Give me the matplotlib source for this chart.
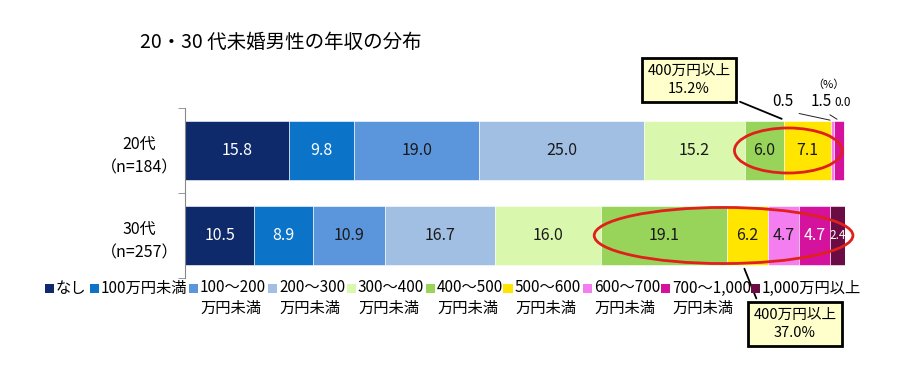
import matplotlib
matplotlib.use("Agg")
import matplotlib.pyplot as plt
from matplotlib.patches import Ellipse, Rectangle
import numpy as np

plt.rcParams['font.family'] = ['Noto Sans CJK JP', 'DejaVu Sans']

groups = ['20代\n（n=184）', '30代\n（n=257）']
categories = ['なし', '100万円未満', '100～200\n万円未満', '200～300\n万円未満', '300～400\n万円未満',
              '400～500\n万円未満', '500～600\n万円未満', '600～700\n万円未満', '700～1,000\n万円未満',
              '1,000万円以上']
values_20 = [15.8, 9.8, 19.0, 25.0, 15.2, 6.0, 7.1, 0.5, 1.5, 0.0]
values_30 = [10.5, 8.9, 10.9, 16.7, 16.0, 19.1, 6.2, 4.7, 4.7, 2.4]
colors = ['#0e2a6b', '#0b74c8', '#5b95dc', '#a1bfe2', '#d9f7ad',
          '#98d45a', '#ffe500', '#f47ef0', '#d4129e', '#6c0c45']
label_colors = ['white', 'white', '#1a1a1a', '#1a1a1a', '#1a1a1a',
                '#1a1a1a', '#1a1a1a', '#1a1a1a', 'white', 'white']

fig = plt.figure(figsize=(9, 3.79), dpi=100)
ax = fig.add_axes([185/900, 1 - 278/379, 660/900, 170/379])

data = [values_20, values_30]
bar_h = 0.7
for row, vals in enumerate(data):
    left = 0
    for i, v in enumerate(vals):
        ax.barh(row, v, left=left, height=bar_h, color=colors[i], edgecolor='#ffffff', linewidth=0.4)
        if v >= 2:
            fs = 8.5 if v < 3 else 11.5
            ax.text(left + v/2, row, f'{v:.1f}', ha='center', va='center',
                    color=label_colors[i], fontsize=fs)
        left += v

ax.set_xlim(0, 100)
ax.set_ylim(1.5, -0.5)
ax.set_yticks([0, 1])
ax.set_yticklabels(groups, fontsize=11.5, ha='center', linespacing=1.5)
ax.tick_params(axis='y', which='major', length=0, pad=33)
ax.set_yticks([-0.5, 0.5, 1.5], minor=True)
ax.tick_params(axis='y', which='minor', length=5, color='#888888')
ax.set_xticks([])
for s in ['top', 'right', 'bottom']:
    ax.spines[s].set_visible(False)
ax.spines['left'].set_color('#888888')

fig.text(140/900, 1 - 42/379, '20・30 代未婚男性の年収の分布', fontsize=14, va='center', ha='left')

# small values for the 20s bar
cum20 = np.cumsum(values_20)
small_txt = [(7, 783, '0.5', 11), (8, 821, '1.5', 11), (9, 843, '0.0', 8.5)]
for idx, px, txt, fs in small_txt:
    xc = cum20[idx] - values_20[idx] / 2
    if idx < 9:
        ax.annotate(txt, xy=(xc, -0.35), xytext=(px, 379 - 102), textcoords='figure pixels',
                    ha='center', va='center', fontsize=fs,
                    arrowprops=dict(arrowstyle='-', color='#222222', lw=0.7, relpos=(0.6, 0.0)))
    else:
        fig.text(px/900, 1 - 102/379, txt, ha='center', va='center', fontsize=fs)
fig.text(828/900, 1 - 85/379, '（%）', ha='center', va='center', fontsize=8)

# red ellipses
ax.add_patch(Ellipse((91.4, 0), 16.3, 0.53, fill=False, edgecolor='#e0201c', lw=2, clip_on=False))
ax.add_patch(Ellipse((81.6, 1), 39.2, 0.66, fill=False, edgecolor='#e0201c', lw=2, clip_on=False))

# callouts
box = dict(boxstyle='square,pad=0.4', fc='#ffffcc', ec='black', lw=2)
ax.annotate('400万円以上\n15.2%', xy=(cum20[4] + values_20[5], -0.36), xytext=(689, 379 - 80),
            textcoords='figure pixels', ha='center', va='center', fontsize=10.5, bbox=box,
            linespacing=1.4,
            arrowprops=dict(arrowstyle='-', color='black', lw=1.3, relpos=(0.95, 0.0)))
cum30 = np.cumsum(values_30)
ax.annotate('400万円以上\n37.0%', xy=(cum30[5] + 2.5, 1.36), xytext=(795, 379 - 324),
            textcoords='figure pixels', ha='center', va='center', fontsize=10.5, bbox=box,
            linespacing=1.4,
            arrowprops=dict(arrowstyle='-', color='black', lw=1.3, relpos=(0.08, 1.0)))

# legend
marker_x = [49, 94, 193, 272, 351, 430, 508, 587, 665, 755]
for i, name in enumerate(categories):
    mx = marker_x[i]
    fig.patches.append(Rectangle(((mx - 4.5)/900, 1 - 292.5/379), 9/900, 9/379,
                                 transform=fig.transFigure, fc=colors[i], ec='none'))
    lines = name.split('\n')
    fig.text((mx + 7)/900, 1 - 288/379, lines[0], fontsize=11, va='center', ha='left')
    if len(lines) > 1:
        fig.text((mx + 7)/900, 1 - 308/379, lines[1], fontsize=11, va='center', ha='left')

fig.savefig('out.png', dpi=100)
